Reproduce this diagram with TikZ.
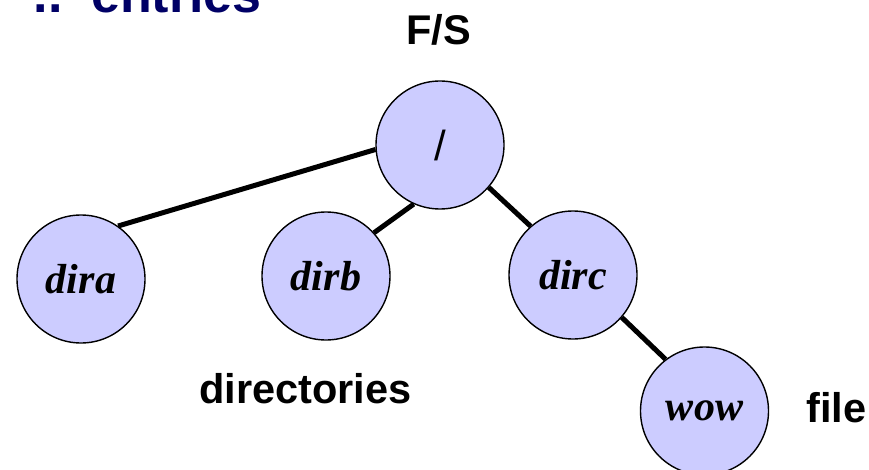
\documentclass[tikz,border=0pt]{standalone}
\usepackage{fontspec}
\setmainfont{Liberation Sans}
\newfontfamily\treefont{Liberation Serif}
\definecolor{dirfill}{HTML}{CCCCFF}
\definecolor{titleblue}{HTML}{000066}

\begin{document}
\begin{tikzpicture}[x=1pt,y=-1pt,text=black,
  dirnode/.style={circle,draw=black,fill=dirfill,line width=1.4pt,minimum size=128pt,inner sep=0pt,
    font=\treefont\bfseries\itshape\fontsize{42}{48}\selectfont},
  link/.style={line width=5pt},
  note/.style={font=\bfseries\fontsize{41.5}{46}\selectfont,inner sep=0pt},
  heading/.style={font=\bfseries\fontsize{52}{60}\selectfont,text=titleblue,inner sep=0pt}]
\useasboundingbox (0,0) rectangle (869,470);
\fill[white] (0,0) rectangle (869,470);
\clip (0,0) rectangle (869,470);

% TITLE (CUT OFF AT THE TOP)
\node[heading,anchor=base west] (dots) at (33.5,13) {..};
\node[heading,anchor=base west] (entries) at (91,13) {entries};

% TREE
\node[note,anchor=base] (fs) at (438.5,45) {F/S};
\node[dirnode,font=\fontsize{42}{48}\selectfont] (root) at (440,145) {/};
\node[dirnode] (dira) at (81,279) {dira};
\node[dirnode] (dirb) at (326,276) {dirb};
\node[dirnode] (dirc) at (573,275) {dirc};
\node[dirnode] (wow) at (704.5,411) {wow};
\draw[link] (root.184.5) -- (dira.55);
\draw[link] (root.246.5) -- (dirb.42);
\draw[link] (root.319) -- (dirc.131);
\draw[link] (dirc.319) -- (wow.127.5);

% LABELS
\node[note,anchor=base] (dirs) at (305.5,403) {directories};
\node[note,anchor=base west] (file) at (806,422) {file};
\end{tikzpicture}
\end{document}
